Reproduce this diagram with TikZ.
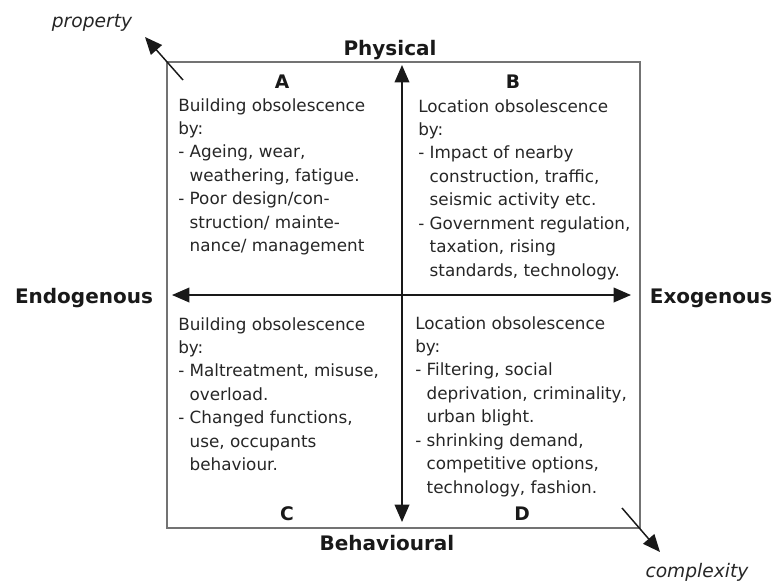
\documentclass[tikz,border=0pt]{standalone}
\usepackage{fontspec}
\setmainfont{DejaVu Sans}
\usetikzlibrary{arrows.meta}

\begin{document}
\begin{tikzpicture}[x=0.75pt,y=-0.75pt,>={Triangle[length=13pt,width=11pt]},
		axis/.style={<->,black!90,line width=1.1pt},
		trend/.style={->,black!90,line width=1.1pt},
		frame/.style={draw=black!55,line width=1.1pt},
		pole/.style={font=\fontsize{15}{18}\selectfont\bfseries,text=black!90,inner sep=0pt,anchor=base},
		corner/.style={font=\fontsize{14}{16}\selectfont\bfseries,text=black!90,inner sep=0pt,anchor=base},
		drift/.style={font=\fontsize{14}{16}\selectfont\itshape,text=black!85,inner sep=0pt,anchor=base},
		cell/.style={font=\fontsize{12.6}{17.6}\selectfont,text=black!85,align=left,inner sep=0pt,anchor=north west}]

		\useasboundingbox (0,0) rectangle (781,587);
		\draw[frame] (167,62) rectangle (640,528);

		\coordinate (Top) at (402,65);
		\coordinate (Bottom) at (402,522);
		\coordinate (Left) at (172,295);
		\coordinate (Right) at (631,295);
		\draw[axis] (Bottom) -- (Top);
		\draw[axis] (Left) -- (Right);

		\node[pole] (Phys) at (390,55) {Physical};
		\node[pole] (Behav) at (387,550) {Behavioural};
		\node[pole] (Endo) at (84,303) {Endogenous};
		\node[pole] (Exo) at (711,303) {Exogenous};

		\node[corner] (A) at (282,88) {A};
		\node[corner] (B) at (513,88) {B};
		\node[corner] (C) at (287,520) {C};
		\node[corner] (D) at (522,520) {D};

		\node[drift] (Prop) at (92,27) {property};
		\node[drift] (Compl) at (697,577) {complexity};
		\coordinate (PropTail) at (183,80);
		\coordinate (PropTip) at (145,37);
		\coordinate (ComplTail) at (622,508);
		\coordinate (ComplTip) at (660,552);
		\draw[trend] (PropTail) -- (PropTip);
		\draw[trend] (ComplTail) -- (ComplTip);

		\node[cell] (TextA) at (178,98) {Building obsolescence\\by:\\- Ageing, wear,\\\hphantom{- }weathering, fatigue.\\- Poor design/con-\\\hphantom{- }struction/ mainte-\\\hphantom{- }nance/ management};
		\node[cell] (TextB) at (418,99) {Location obsolescence\\by:\\- Impact of nearby\\\hphantom{- }construction, traffic,\\\hphantom{- }seismic activity etc.\\- Government regulation,\\\hphantom{- }taxation, rising\\\hphantom{- }standards, technology.};
		\node[cell] (TextC) at (178,317) {Building obsolescence\\by:\\- Maltreatment, misuse,\\\hphantom{- }overload.\\- Changed functions,\\\hphantom{- }use, occupants\\\hphantom{- }behaviour.};
		\node[cell] (TextD) at (415,316) {Location obsolescence\\by:\\- Filtering, social\\\hphantom{- }deprivation, criminality,\\\hphantom{- }urban blight.\\- shrinking demand,\\\hphantom{- }competitive options,\\\hphantom{- }technology, fashion.};
	\end{tikzpicture}
\end{document}
